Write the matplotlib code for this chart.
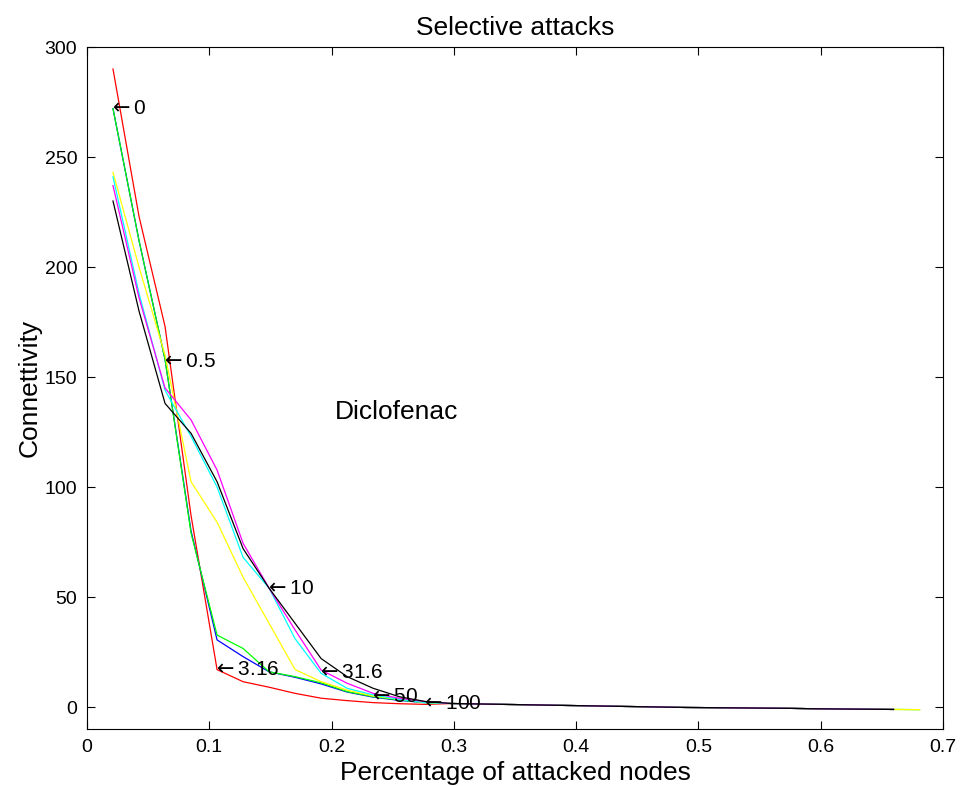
import numpy as np
import matplotlib
matplotlib.use('Agg')
import matplotlib.pyplot as plt

plt.rcParams['font.family'] = ['Liberation Sans', 'DejaVu Sans']

#number of nodes in the network, x = k / n_nodes
n_nodes = 47

#first 13 points of every curve
head_red = [290, 223, 173, 87, 17, 11.5, 9, 6.2, 4, 2.9, 2, 1.5, 1.2]
head_green = [272, 212, 158, 79, 32.7, 26.6, 16, 13.8, 11, 7, 4.7, 3.2, 2]
head_blue = [272, 212, 158, 80, 30.5, 22.9, 16, 13.5, 10.5, 6.8, 4.5, 3, 2]
head_yellow = [243, 200, 160, 102.4, 84, 59, 38, 17, 11.5, 7.7, 5, 3.5, 2]
head_cyan = [241, 188, 144, 123, 100, 68, 54, 31, 15.3, 8.5, 5.5, 3.5, 2]
head_magenta = [237, 186, 145, 130.5, 107.7, 74.4, 54, 35, 16.8, 10.8, 6.2, 4, 2.5]
head_black = [230, 180, 138, 124.4, 102.4, 72, 54, 38, 22, 13.8, 8.5, 4.7, 2.5]

#common flat tail (k = 14 .. 32)
tail = [1.6, 1.4, 1.2, 1.0, 0.8, 0.6, 0.4, 0.2, 0.0, -0.2, -0.3, -0.4,
        -0.5, -0.6, -0.8, -0.9, -1.0, -1.1, -1.2]

series = [
    ('#ff0000', head_red, 31),
    ('#0000ff', head_blue, 31),
    ('#00ff00', head_green, 32),
    ('#ffff00', head_yellow, 32),
    ('#00ffff', head_cyan, 31),
    ('#ff00ff', head_magenta, 31),
    ('#000000', head_black, 31),
]

#annotations: label, index k, y value
labels = ['0', '0.5', '3.16', '10', '31.6', '50', '100']
label_k = [1, 3, 5, 7, 9, 11, 13]
label_y = [272, 157, 17, 54, 15.5, 5, 1.7]


def main():
    fig = plt.figure(figsize=(9.6, 7.86), dpi=100)
    ax = fig.add_axes([0.0906, 0.0725, 0.8917, 0.8677])

    for color, head, n in series:
        y = head + tail[:n - len(head)]
        x = np.arange(1, n + 1) / n_nodes
        ax.plot(x, y, color=color, linewidth=0.9)

    for lab, k, yv in zip(labels, label_k, label_y):
        ax.annotate(r'$\leftarrow$' + lab, (k / n_nodes, yv),
                    xytext=(-3.5, 0), textcoords='offset points',
                    fontsize=15, ha='left', va='center')

    ax.text(0.203, 134, 'Diclofenac', fontsize=19, ha='left', va='center')

    ax.set_xlim(0, 0.7)
    ax.set_ylim(-10, 300)
    ax.set_xticks(np.arange(0, 0.71, 0.1))
    ax.set_xticklabels(['0', '0.1', '0.2', '0.3', '0.4', '0.5', '0.6', '0.7'])
    ax.set_yticks(np.arange(0, 301, 50))
    ax.tick_params(direction='in', top=True, right=True, length=6,
                   labelsize=14, pad=7)

    ax.set_title('Selective attacks', fontsize=19, pad=9)
    ax.set_xlabel('Percentage of attacked nodes', fontsize=19, labelpad=4)
    ax.set_ylabel('Connettivity', fontsize=19, labelpad=2)

    fig.savefig('out.png', dpi=100)


if __name__ == '__main__':
    main()
